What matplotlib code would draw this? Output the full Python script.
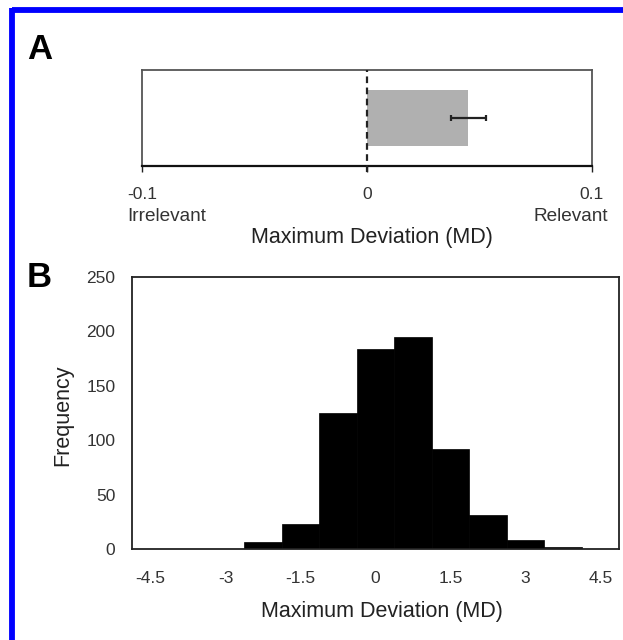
import matplotlib
matplotlib.use("Agg")
import matplotlib.pyplot as plt
import numpy as np

plt.rcParams['font.family'] = ['Liberation Sans', 'DejaVu Sans']

# ---- Panel A data ----
md_mean = [0.045]
md_err = [0.0077]
a_ticks = [-0.1, 0, 0.1]
a_ticklabels = ["-0.1", "0", "0.1"]

# ---- Panel B data (histogram counts) ----
bin_edges = [-4.875, -4.125, -3.375, -2.625, -1.875, -1.125, -0.375,
             0.375, 1.125, 1.875, 2.625, 3.375, 4.125, 4.875]
counts = [0, 0, 0, 6, 23, 125, 184, 195, 92, 31, 8, 2, 0]
b_xticks = [-4.5, -3, -1.5, 0, 1.5, 3, 4.5]
b_xticklabels = ["-4.5", "-3", "-1.5", "0", "1.5", "3", "4.5"]
b_yticks = [0, 50, 100, 150, 200, 250]

W, H = 623, 640
fig = plt.figure(figsize=(W / 100, H / 100), dpi=100)

def px_axes(l, t, r, b):
    return fig.add_axes([l / W, 1 - b / H, (r - l) / W, (b - t) / H])

tick_col = "#333333"
lab_col = "#222222"

# ---------------- Panel A ----------------
axA = px_axes(142, 70, 592, 166)
axA.barh([0.5], md_mean, height=0.59, color="#b0b0b0", left=0, zorder=2)
axA.errorbar(md_mean, [0.5], xerr=md_err, fmt="none", ecolor="#222222",
             elinewidth=1.6, capsize=2.5, capthick=1.6, zorder=3)
axA.plot([0, 0], [-0.06, 1.0], ls=(0, (3, 2)), color="#222222", lw=1.6,
         clip_on=False, zorder=4)
axA.set_xlim(-0.1, 0.1)
axA.set_ylim(0, 1)
axA.set_yticks([])
axA.set_xticks(a_ticks)
axA.set_xticklabels(a_ticklabels)
axA.tick_params(axis="x", length=4, width=1.0, color="#222222", pad=11,
                labelsize=12.5, labelcolor=tick_col)
for s in ["top", "left", "right"]:
    axA.spines[s].set_color("#555555")
    axA.spines[s].set_linewidth(1.3)
axA.spines["bottom"].set_color("#111111")
axA.spines["bottom"].set_linewidth(1.6)
axA.text(-0.033, -0.53, "Irrelevant", transform=axA.transAxes, ha="left",
         va="center", fontsize=13.7, color=tick_col)
axA.text(1.036, -0.53, "Relevant", transform=axA.transAxes, ha="right",
         va="center", fontsize=13.7, color=tick_col)
axA.set_xlabel("Maximum Deviation (MD)", fontsize=15.5, color=lab_col,
               va="center")
axA.xaxis.set_label_coords(0.511, -0.74)

# ---------------- Panel B ----------------
axB = px_axes(132, 277, 619, 549)
widths = np.diff(bin_edges)
axB.bar(bin_edges[:-1], counts, width=widths, align="edge", color="black",
        edgecolor="black", linewidth=0.5, zorder=2)
axB.set_xlim(bin_edges[0], bin_edges[-1])
axB.set_ylim(0, 250)
axB.set_xticks(b_xticks)
axB.set_xticklabels(b_xticklabels)
axB.set_yticks(b_yticks)
axB.tick_params(axis="both", length=0, labelsize=12.5, labelcolor=tick_col)
axB.tick_params(axis="x", pad=15.5)
axB.tick_params(axis="y", pad=12)
for s in axB.spines.values():
    s.set_color("#222222")
    s.set_linewidth(1.3)
axB.set_xlabel("Maximum Deviation (MD)", fontsize=15.5, color=lab_col,
               va="center")
axB.xaxis.set_label_coords(0.513, -0.228)
axB.set_ylabel("Frequency", fontsize=15.5, color=lab_col, va="center")
axB.yaxis.set_label_coords(-0.1417, 0.49)

# Panel letters
fig.text(27 / W, 1 - 59 / H, "A", fontsize=25, fontweight="bold",
         ha="left", va="baseline", color="black")
fig.text(27 / W, 1 - 287 / H, "B", fontsize=25, fontweight="bold",
         ha="left", va="baseline", color="black")

# Blue frame (top and left edges)
fig.add_artist(plt.Line2D([12 / W, 1.0], [1 - 10 / H, 1 - 10 / H],
                          transform=fig.transFigure, color="#0000ff", lw=4.2,
                          solid_capstyle="butt"))
fig.add_artist(plt.Line2D([12 / W, 12 / W], [0.0, 1 - 8 / H],
                          transform=fig.transFigure, color="#0000ff", lw=4.2,
                          solid_capstyle="butt"))

fig.savefig("out.png", dpi=100)
